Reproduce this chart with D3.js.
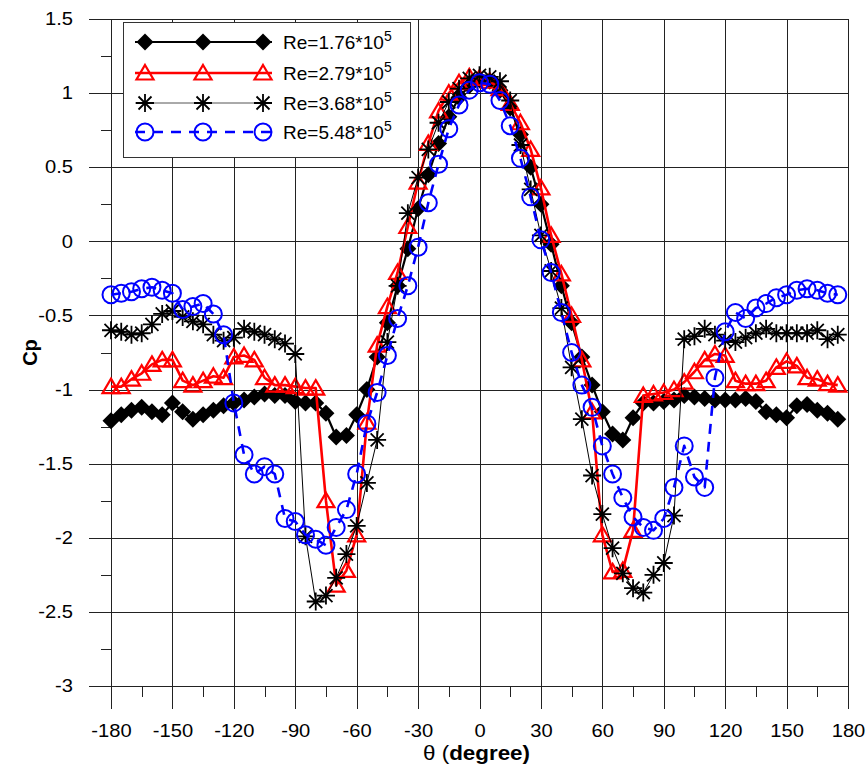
<!DOCTYPE html>
<html>
<head>
<meta charset="utf-8">
<script src="https://cdn.jsdelivr.net/npm/d3@7/dist/d3.min.js"></script>
<style>
  body { margin: 0; background: #fff; }
  svg { display: block; }
  text { font-family: "Liberation Sans", Arial, sans-serif; }
</style>
</head>
<body>
<svg id="chart" width="867" height="771"></svg>
<script>
// Angular position around the cylinder, degrees
const theta = [-180,-175,-170,-165,-160,-155,-150,-145,-140,-135,-130,-125,-120,-115,-110,-105,-100,-95,
  -90,-85,-80,-75,-70,-65,-60,-55,-50,-45,-40,-35,-30,-25,-20,-15,-10,-5,
  0,5,10,15,20,25,30,35,40,45,50,55,60,65,70,75,80,85,
  90,95,100,105,110,115,120,125,130,135,140,145,150,155,160,165,170,175];

// Pressure coefficient Cp for each Reynolds number
const cpRe176 = [-1.21,-1.17,-1.14,-1.12,-1.15,-1.17,-1.09,-1.15,-1.20,-1.17,-1.14,-1.11,-1.09,-1.07,-1.05,-1.03,-1.04,-1.04,
  -1.08,-1.09,-1.09,-1.16,-1.32,-1.31,-1.17,-1.00,-0.78,-0.55,-0.30,-0.05,0.22,0.45,0.66,0.84,0.97,1.05,
  1.09,1.08,1.02,0.90,0.72,0.50,0.25,-0.02,-0.30,-0.55,-0.78,-0.97,-1.15,-1.30,-1.34,-1.19,-1.09,-1.09,
  -1.08,-1.07,-1.04,-1.05,-1.06,-1.07,-1.07,-1.07,-1.06,-1.08,-1.15,-1.17,-1.19,-1.11,-1.10,-1.14,-1.16,-1.20];

const cpRe279 = [-0.98,-0.98,-0.93,-0.89,-0.83,-0.80,-0.80,-0.94,-0.97,-0.94,-0.91,-0.92,-0.78,-0.77,-0.80,-0.92,-0.97,-0.97,
  -0.98,-0.99,-0.99,-1.75,-2.32,-2.22,-1.98,-1.22,-0.70,-0.44,-0.21,0.10,0.40,0.66,0.88,1.00,1.07,1.11,
  1.10,1.08,1.03,0.93,0.80,0.62,0.36,0.04,-0.22,-0.50,-0.80,-1.15,-1.98,-2.23,-2.22,-1.95,-1.04,-1.03,
  -1.02,-1.00,-0.95,-0.88,-0.80,-0.76,-0.77,-0.94,-0.96,-0.96,-0.94,-0.85,-0.81,-0.84,-0.92,-0.93,-0.96,-0.97];

const cpRe368 = [-0.60,-0.61,-0.63,-0.62,-0.56,-0.49,-0.47,-0.51,-0.54,-0.56,-0.63,-0.67,-0.65,-0.59,-0.61,-0.63,-0.66,-0.69,
  -0.76,-1.99,-2.43,-2.39,-2.27,-2.11,-1.92,-1.63,-1.34,-0.68,-0.30,0.19,0.43,0.62,0.80,0.94,1.03,1.10,
  1.12,1.11,1.08,0.95,0.65,0.35,0.04,-0.20,-0.45,-0.85,-1.20,-1.58,-1.84,-2.07,-2.24,-2.34,-2.37,-2.25,
  -2.17,-1.85,-0.66,-0.64,-0.59,-0.63,-0.67,-0.68,-0.65,-0.62,-0.59,-0.62,-0.62,-0.62,-0.62,-0.60,-0.66,-0.63];

const cpRe548 = [-0.36,-0.35,-0.34,-0.32,-0.31,-0.33,-0.35,-0.46,-0.44,-0.42,-0.49,-0.63,-1.09,-1.44,-1.57,-1.52,-1.57,-1.87,
  -1.89,-1.98,-2.01,-2.05,-1.93,-1.81,-1.57,-1.23,-1.02,-0.77,-0.52,-0.30,-0.04,0.26,0.52,0.76,0.92,1.02,
  1.07,1.06,0.95,0.78,0.56,0.30,0.01,-0.21,-0.48,-0.75,-0.97,-1.12,-1.38,-1.57,-1.73,-1.86,-1.93,-1.95,
  -1.87,-1.66,-1.38,-1.59,-1.66,-0.92,-0.61,-0.48,-0.52,-0.45,-0.42,-0.38,-0.36,-0.33,-0.32,-0.33,-0.35,-0.36];

const xTicks = [-180,-150,-120,-90,-60,-30,0,30,60,90,120,150,180];
const xMinorTicks = [-165,-135,-105,-75,-45,-15,15,45,75,105,135,165];
const yTicks = [1.5,1,0.5,0,-0.5,-1,-1.5,-2,-2.5,-3];
const yMinorTicks = [1.25,0.75,0.25,-0.25,-0.75,-1.25,-1.75,-2.25,-2.75];

const seriesNames = ["1.76", "2.79", "3.68", "5.48"];

const svg = d3.select("#chart");
const plotL = 111, plotR = 848, plotT = 19, plotB = 686;

const x = d3.scaleLinear().domain([-180, 180]).range([plotL, plotR]);
const y = d3.scaleLinear().domain([-3, 1.5]).range([plotB, plotT]);

const TXT_STRETCH = 1.12;
const plainNum = d => String(d);   // keeps an ASCII hyphen for negatives

// ---- grid ----
svg.append("g").attr("transform", `translate(${plotL},0)`)
  .call(d3.axisLeft(y).tickValues(yTicks).tickSize(-(plotR - plotL)).tickFormat(""))
  .call(g => g.select(".domain").remove())
  .call(g => g.selectAll("line").attr("stroke", "#222").attr("stroke-width", 1).attr("shape-rendering", "crispEdges"));

svg.append("g").attr("transform", `translate(0,${plotB})`)
  .call(d3.axisBottom(x).tickValues(xTicks).tickSize(-(plotB - plotT)).tickFormat(""))
  .call(g => g.select(".domain").remove())
  .call(g => g.selectAll("line").attr("stroke", "#222").attr("stroke-width", 1).attr("shape-rendering", "crispEdges"));

// ---- y axis: outer major ticks, minor ticks, labels ----
const yAxis = svg.append("g").attr("transform", `translate(${plotL},0)`)
  .call(d3.axisLeft(y).tickValues(yTicks).tickSizeInner(22).tickSizeOuter(0).tickPadding(16)
    .tickFormat(plainNum));
yAxis.select(".domain").attr("stroke", "#222").attr("shape-rendering", "crispEdges");
yAxis.selectAll("line").attr("stroke", "#222").attr("shape-rendering", "crispEdges");
yAxis.selectAll("text")
  .attr("font-size", 18).attr("font-family", "Liberation Sans, Arial, sans-serif").attr("fill", "#000")
  .attr("x", -38 / TXT_STRETCH).attr("transform", `scale(${TXT_STRETCH},1)`);

svg.append("g").attr("transform", `translate(${plotL},0)`)
  .call(d3.axisLeft(y).tickValues(yMinorTicks).tickSize(10).tickFormat(""))
  .call(g => g.select(".domain").remove())
  .call(g => g.selectAll("line").attr("stroke", "#222").attr("shape-rendering", "crispEdges"));

// ---- x axis ----
const xAxis = svg.append("g").attr("transform", `translate(0,${plotB})`)
  .call(d3.axisBottom(x).tickValues(xTicks).tickSizeInner(23).tickSizeOuter(0).tickPadding(15)
    .tickFormat(plainNum));
xAxis.select(".domain").attr("stroke", "#222").attr("shape-rendering", "crispEdges");
xAxis.selectAll("line").attr("stroke", "#222").attr("shape-rendering", "crispEdges");
xAxis.selectAll("text")
  .attr("font-size", 18).attr("font-family", "Liberation Sans, Arial, sans-serif").attr("fill", "#000")
  .attr("transform", `scale(${TXT_STRETCH},1)`);

svg.append("g").attr("transform", `translate(0,${plotB})`)
  .call(d3.axisBottom(x).tickValues(xMinorTicks).tickSize(11).tickFormat(""))
  .call(g => g.select(".domain").remove())
  .call(g => g.selectAll("line").attr("stroke", "#222").attr("shape-rendering", "crispEdges"));

// frame
svg.append("rect").attr("x", plotL).attr("y", plotT).attr("width", plotR - plotL).attr("height", plotB - plotT)
  .attr("fill", "none").attr("stroke", "#222").attr("shape-rendering", "crispEdges");

// ---- axis titles ----
const xt = svg.append("text")
  .attr("transform", `translate(${(plotL + plotR) / 2 - 3},760) scale(${TXT_STRETCH},1)`)
  .attr("text-anchor", "middle").attr("font-size", 20);
xt.append("tspan").text("θ (");
xt.append("tspan").attr("font-weight", "bold").text("degree)");

svg.append("text")
  .attr("transform", `translate(37,${(plotT + plotB) / 2}) rotate(-90)`)
  .attr("text-anchor", "middle").attr("font-size", 20).attr("font-weight", "bold")
  .text("Cp");

// ---- markers ----
function drawMarker(g, kind) {
  if (kind === "diamond") {
    g.append("path").attr("d", "M0,-8.5L8.5,0L0,8.5L-8.5,0Z").attr("fill", "#000");
  } else if (kind === "triangle") {
    g.append("path").attr("d", "M0,-8L8.5,6.5L-8.5,6.5Z")
      .attr("fill", "none").attr("stroke", "#ff0000").attr("stroke-width", 2.2);
  } else if (kind === "asterisk") {
    g.append("path").attr("d", "M-9,0H9M0,-9V9M-6.5,-6.5L6.5,6.5M-6.5,6.5L6.5,-6.5")
      .attr("fill", "none").attr("stroke", "#000").attr("stroke-width", 1.8);
  } else if (kind === "circle") {
    g.append("circle").attr("r", 8.5)
      .attr("fill", "none").attr("stroke", "#0000ff").attr("stroke-width", 2);
  }
}

const series = [
  { values: cpRe176, color: "#000", width: 2.2, dash: null, marker: "diamond" },
  { values: cpRe279, color: "#ff0000", width: 2.6, dash: null, marker: "triangle" },
  { values: cpRe368, color: "#000", width: 1, dash: null, marker: "asterisk" },
  { values: cpRe548, color: "#0000ff", width: 2.6, dash: "10,8", marker: "circle" }
];

const line = d3.line().x(d => x(d[0])).y(d => y(d[1]));

const plot = svg.append("g");
series.forEach(s => {
  const pts = theta.map((t, i) => [t, s.values[i]]);
  plot.append("path").datum(pts).attr("d", line)
    .attr("fill", "none").attr("stroke", s.color).attr("stroke-width", s.width)
    .attr("stroke-dasharray", s.dash).attr("stroke-linejoin", "round");
  plot.append("g").selectAll("g").data(pts).join("g")
    .attr("transform", d => `translate(${x(d[0])},${y(d[1])})`)
    .each(function () { drawMarker(d3.select(this), s.marker); });
});

// ---- legend ----
const legend = svg.append("g");
legend.append("rect").attr("x", 123).attr("y", 22).attr("width", 287).attr("height", 135)
  .attr("fill", "#fff").attr("stroke", "#333").attr("stroke-width", 1).attr("shape-rendering", "crispEdges");
const rowY = [42, 73, 103, 132];
const markX = [145, 203, 263];
series.forEach((s, i) => {
  const row = legend.append("g").attr("transform", `translate(0,${rowY[i]})`);
  row.append("line").attr("x1", 135).attr("x2", 272).attr("y1", 0).attr("y2", 0)
    .attr("stroke", i === 2 ? "#555" : s.color).attr("stroke-width", s.width)
    .attr("stroke-dasharray", s.dash);
  markX.forEach(mx => drawMarker(row.append("g").attr("transform", `translate(${mx},0)`), s.marker));
  const t = row.append("text").attr("x", 283).attr("y", 7).attr("font-size", 19);
  t.append("tspan").text(`Re=${seriesNames[i]}*10`);
  t.append("tspan").attr("font-size", 14).attr("dy", -8).text("5");
});
</script>
</body>
</html>
